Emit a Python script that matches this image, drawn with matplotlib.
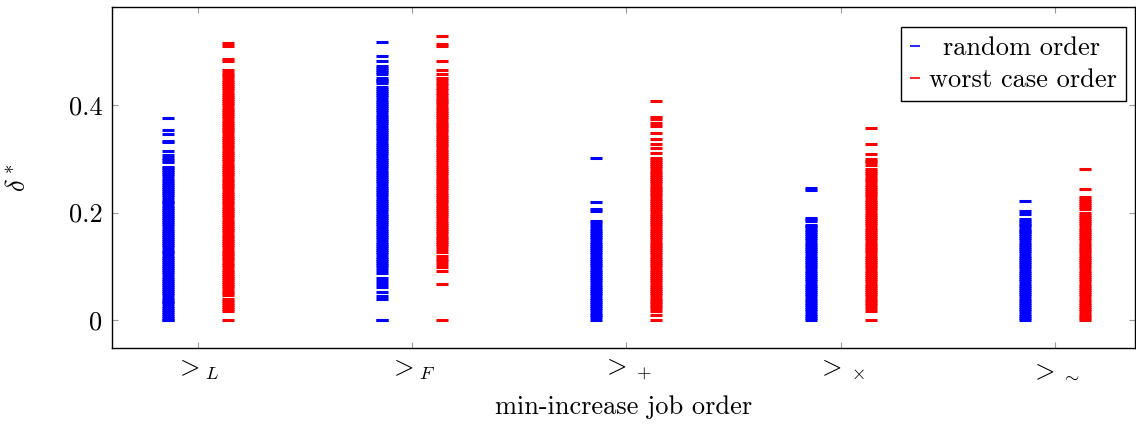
import matplotlib
matplotlib.use("Agg")
import matplotlib.pyplot as plt
from matplotlib.lines import Line2D

plt.rcParams['font.family'] = ['cmr10', 'DejaVu Serif']
plt.rcParams['mathtext.fontset'] = 'cm'
plt.rcParams['axes.unicode_minus'] = False
plt.rcParams['axes.formatter.use_mathtext'] = True

categories = [r'$>_L$', r'$>_F$', r'$>_+$', r'$>_\times$', r'$>_\sim$']

# delta* values, random job order
random_L = [0.000, 0.000, 0.004, 0.007, 0.011, 0.015, 0.019, 0.023, 0.027, 0.031, 0.034, 0.038,
            0.042, 0.046, 0.050, 0.054, 0.058, 0.062, 0.065, 0.069, 0.073, 0.077, 0.081, 0.085,
            0.089, 0.093, 0.096, 0.100, 0.104, 0.108, 0.112, 0.116, 0.120, 0.124, 0.127, 0.131,
            0.135, 0.139, 0.143, 0.147, 0.151, 0.155, 0.158, 0.162, 0.166, 0.170, 0.174, 0.178,
            0.182, 0.186, 0.189, 0.193, 0.197, 0.201, 0.205, 0.209, 0.213, 0.217, 0.220, 0.224,
            0.228, 0.232, 0.236, 0.240, 0.244, 0.248, 0.251, 0.255, 0.259, 0.263, 0.267, 0.271,
            0.275, 0.279, 0.282, 0.285, 0.293, 0.297, 0.301, 0.306, 0.315, 0.331, 0.333, 0.346,
            0.353, 0.375]
random_F = [0.000, 0.000, 0.040, 0.045, 0.053, 0.061, 0.067, 0.073, 0.078, 0.088, 0.094, 0.098,
            0.102, 0.106, 0.110, 0.114, 0.118, 0.122, 0.126, 0.130, 0.134, 0.138, 0.142, 0.146,
            0.150, 0.154, 0.158, 0.162, 0.166, 0.170, 0.174, 0.178, 0.182, 0.186, 0.190, 0.194,
            0.198, 0.202, 0.206, 0.210, 0.214, 0.218, 0.222, 0.226, 0.230, 0.234, 0.238, 0.242,
            0.246, 0.250, 0.254, 0.258, 0.262, 0.266, 0.270, 0.274, 0.278, 0.282, 0.286, 0.290,
            0.294, 0.298, 0.302, 0.306, 0.310, 0.314, 0.318, 0.322, 0.326, 0.330, 0.334, 0.338,
            0.342, 0.346, 0.350, 0.354, 0.358, 0.362, 0.366, 0.370, 0.374, 0.378, 0.382, 0.386,
            0.390, 0.394, 0.398, 0.402, 0.406, 0.410, 0.414, 0.418, 0.422, 0.426, 0.430, 0.434,
            0.441, 0.444, 0.446, 0.450, 0.457, 0.461, 0.465, 0.469, 0.473, 0.482, 0.491, 0.517]
random_plus = [0.000, 0.006, 0.010, 0.014, 0.018, 0.022, 0.026, 0.030, 0.034, 0.038, 0.042, 0.046,
               0.050, 0.054, 0.058, 0.062, 0.066, 0.070, 0.074, 0.078, 0.082, 0.086, 0.090, 0.094,
               0.098, 0.102, 0.106, 0.110, 0.114, 0.118, 0.122, 0.126, 0.130, 0.134, 0.138, 0.142,
               0.146, 0.150, 0.154, 0.158, 0.162, 0.166, 0.169, 0.175, 0.180, 0.185, 0.203, 0.206,
               0.220, 0.301]
random_times = [0.000, 0.004, 0.008, 0.012, 0.016, 0.020, 0.024, 0.028, 0.032, 0.036, 0.040, 0.044,
                0.048, 0.052, 0.056, 0.060, 0.064, 0.068, 0.072, 0.076, 0.080, 0.084, 0.088, 0.092,
                0.096, 0.100, 0.104, 0.108, 0.112, 0.116, 0.120, 0.124, 0.128, 0.132, 0.136, 0.140,
                0.144, 0.148, 0.152, 0.156, 0.160, 0.164, 0.168, 0.172, 0.174, 0.177, 0.185, 0.188,
                0.190, 0.241, 0.246]
random_sim = [0.000, 0.004, 0.008, 0.012, 0.016, 0.020, 0.024, 0.028, 0.032, 0.036, 0.040, 0.044,
              0.048, 0.052, 0.056, 0.060, 0.064, 0.068, 0.072, 0.076, 0.080, 0.084, 0.088, 0.092,
              0.096, 0.100, 0.104, 0.108, 0.112, 0.116, 0.120, 0.124, 0.128, 0.132, 0.136, 0.140,
              0.144, 0.148, 0.152, 0.156, 0.160, 0.164, 0.166, 0.170, 0.174, 0.177, 0.180, 0.184,
              0.188, 0.197, 0.203, 0.221]

# delta* values, worst case job order
worst_L = [0.000, 0.017, 0.021, 0.025, 0.028, 0.032, 0.036, 0.039, 0.047, 0.051, 0.055, 0.059,
           0.063, 0.067, 0.071, 0.074, 0.078, 0.082, 0.086, 0.090, 0.093, 0.099, 0.103, 0.107,
           0.111, 0.115, 0.119, 0.123, 0.127, 0.131, 0.135, 0.139, 0.143, 0.147, 0.151, 0.155,
           0.159, 0.163, 0.167, 0.171, 0.175, 0.179, 0.183, 0.187, 0.191, 0.195, 0.199, 0.203,
           0.207, 0.211, 0.215, 0.219, 0.223, 0.227, 0.231, 0.235, 0.239, 0.243, 0.247, 0.251,
           0.255, 0.259, 0.263, 0.267, 0.271, 0.275, 0.279, 0.283, 0.287, 0.291, 0.295, 0.299,
           0.303, 0.307, 0.311, 0.315, 0.319, 0.323, 0.327, 0.331, 0.335, 0.339, 0.343, 0.347,
           0.351, 0.355, 0.359, 0.363, 0.367, 0.371, 0.375, 0.379, 0.383, 0.387, 0.391, 0.395,
           0.399, 0.403, 0.407, 0.411, 0.415, 0.419, 0.423, 0.427, 0.431, 0.435, 0.439, 0.443,
           0.447, 0.451, 0.455, 0.459, 0.465, 0.481, 0.485, 0.509, 0.515]
worst_F = [0.000, 0.068, 0.092, 0.099, 0.104, 0.110, 0.114, 0.119, 0.127, 0.133, 0.137, 0.141,
           0.145, 0.149, 0.153, 0.157, 0.161, 0.165, 0.169, 0.173, 0.177, 0.181, 0.185, 0.189,
           0.193, 0.197, 0.201, 0.205, 0.209, 0.213, 0.217, 0.221, 0.225, 0.229, 0.233, 0.237,
           0.241, 0.245, 0.249, 0.253, 0.257, 0.261, 0.265, 0.269, 0.273, 0.277, 0.281, 0.285,
           0.289, 0.293, 0.297, 0.301, 0.305, 0.309, 0.313, 0.317, 0.321, 0.325, 0.329, 0.333,
           0.337, 0.341, 0.345, 0.349, 0.353, 0.357, 0.361, 0.365, 0.369, 0.373, 0.377, 0.381,
           0.385, 0.389, 0.393, 0.397, 0.401, 0.405, 0.409, 0.413, 0.418, 0.423, 0.428, 0.432,
           0.437, 0.441, 0.446, 0.450, 0.457, 0.464, 0.481, 0.509, 0.513, 0.528]
worst_plus = [0.000, 0.009, 0.017, 0.022, 0.026, 0.030, 0.034, 0.038, 0.042, 0.046, 0.050, 0.054,
              0.058, 0.062, 0.066, 0.070, 0.074, 0.078, 0.082, 0.086, 0.090, 0.094, 0.098, 0.102,
              0.106, 0.110, 0.114, 0.118, 0.122, 0.126, 0.130, 0.134, 0.138, 0.142, 0.146, 0.150,
              0.154, 0.158, 0.162, 0.166, 0.170, 0.174, 0.178, 0.182, 0.186, 0.190, 0.194, 0.198,
              0.202, 0.206, 0.210, 0.214, 0.218, 0.222, 0.226, 0.230, 0.234, 0.238, 0.242, 0.246,
              0.250, 0.254, 0.258, 0.262, 0.266, 0.270, 0.274, 0.278, 0.282, 0.286, 0.290, 0.294,
              0.298, 0.302, 0.310, 0.319, 0.327, 0.336, 0.347, 0.361, 0.366, 0.373, 0.377, 0.408]
worst_times = [0.000, 0.017, 0.023, 0.028, 0.032, 0.036, 0.040, 0.044, 0.048, 0.052, 0.056, 0.060,
               0.064, 0.068, 0.072, 0.076, 0.080, 0.084, 0.088, 0.092, 0.096, 0.100, 0.104, 0.108,
               0.112, 0.116, 0.120, 0.124, 0.128, 0.132, 0.136, 0.140, 0.144, 0.148, 0.152, 0.156,
               0.160, 0.164, 0.168, 0.172, 0.176, 0.180, 0.184, 0.188, 0.192, 0.196, 0.200, 0.204,
               0.208, 0.212, 0.216, 0.220, 0.224, 0.228, 0.232, 0.236, 0.240, 0.244, 0.248, 0.252,
               0.256, 0.260, 0.264, 0.270, 0.273, 0.277, 0.281, 0.288, 0.293, 0.296, 0.299, 0.308,
               0.328, 0.358]
worst_sim = [0.000, 0.004, 0.008, 0.012, 0.016, 0.020, 0.024, 0.028, 0.032, 0.036, 0.040, 0.044,
             0.048, 0.052, 0.056, 0.060, 0.064, 0.068, 0.072, 0.076, 0.080, 0.084, 0.088, 0.092,
             0.096, 0.100, 0.104, 0.108, 0.112, 0.116, 0.120, 0.124, 0.128, 0.132, 0.136, 0.140,
             0.144, 0.148, 0.152, 0.156, 0.160, 0.164, 0.168, 0.172, 0.176, 0.180, 0.184, 0.188,
             0.192, 0.196, 0.200, 0.206, 0.210, 0.214, 0.218, 0.222, 0.225, 0.228, 0.243, 0.281]

random_all = [random_L, random_F, random_plus, random_times, random_sim]
worst_all = [worst_L, worst_F, worst_plus, worst_times, worst_sim]

fig = plt.figure(figsize=(11.36, 4.25), dpi=100)
ax = fig.add_axes([0.0986, 0.181, 0.9005, 0.8025])

shift = 0.14
for i, (r, w) in enumerate(zip(random_all, worst_all)):
    pos = i + 1
    ax.plot([pos - shift] * len(r), r, linestyle='None', marker='_', color='#0000ff',
            markersize=8, markeredgewidth=2.2)
    ax.plot([pos + shift] * len(w), w, linestyle='None', marker='_', color='#ff0000',
            markersize=8, markeredgewidth=2.2)

ax.set_xlim(0.6, 5.373)
ax.set_ylim(-0.052, 0.582)
ax.set_xticks(range(1, 6))
ax.set_xticklabels(categories)
ax.set_yticks([0, 0.2, 0.4])
ax.set_yticklabels(['0', '0.2', '0.4'])
ax.tick_params(direction='in', length=4.5, width=0.8, color='#9a9a9a',
               top=True, right=True, labelsize=19, pad=7)
for s in ax.spines.values():
    s.set_linewidth(1.0)
    s.set_color('black')

ax.set_xlabel('min-increase job order', fontsize=19, labelpad=10)
ax.set_ylabel(r'$\delta^*$', fontsize=19, labelpad=28)

handles = [Line2D([], [], linestyle='None', marker='_', color='#0000ff', markersize=7, markeredgewidth=1.2),
           Line2D([], [], linestyle='None', marker='_', color='#ff0000', markersize=7, markeredgewidth=1.2)]
leg = ax.legend(handles, ['random order', 'worst case order'], loc='upper right',
                bbox_to_anchor=(0.991, 0.941), fontsize=19, frameon=True, fancybox=False,
                edgecolor='black', framealpha=1, borderpad=0.35, labelspacing=0.3,
                handlelength=0.4, handletextpad=0.3, borderaxespad=0)
leg.get_frame().set_linewidth(1.0)
# centre the shorter entry like the original legend does
leg.get_texts()[0].set_x(14)

fig.savefig('out.png', dpi=100)
